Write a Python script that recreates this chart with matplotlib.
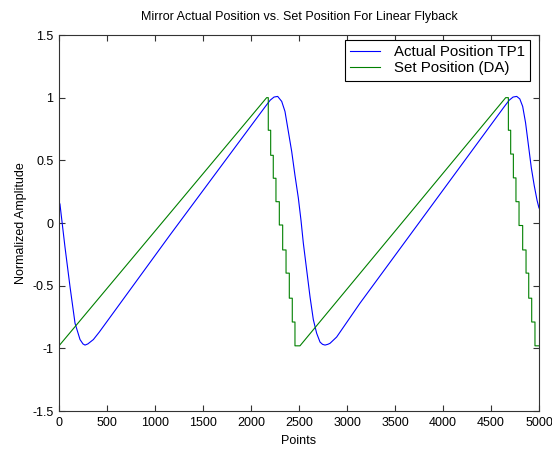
import matplotlib
matplotlib.use("Agg")
import matplotlib.pyplot as plt

# Actual position (blue)
blue_x = [0, 10, 62, 115, 167, 219, 250, 271, 300, 358, 420, 1156, 2150, 2200, 2240,
          2278, 2320, 2354, 2389, 2424, 2458, 2493, 2521, 2545, 2580, 2615, 2649, 2684,
          2719, 2745, 2771, 2800, 2823, 2892, 3135, 4640, 4690, 4730, 4768, 4800, 4830,
          4860, 4890, 4920, 4950, 4980, 5000]
blue_y = [0.17, 0.15, -0.19, -0.51, -0.80, -0.93, -0.965, -0.974, -0.965, -0.93, -0.87,
          -0.096, 0.93, 0.98, 1.005, 1.01, 0.97, 0.89, 0.73, 0.57, 0.38, 0.20, 0.02,
          -0.16, -0.375, -0.59, -0.77, -0.88, -0.95, -0.968, -0.974, -0.968, -0.96, -0.91,
          -0.64, 0.93, 0.98, 1.005, 1.01, 0.99, 0.93, 0.80, 0.62, 0.44, 0.30, 0.18, 0.12]

# Set position (green): ramp vertices and flyback steps
green_x = [0, 2163, 2180, 2180, 2205, 2205, 2232, 2232, 2260, 2260, 2295, 2295, 2330, 2330,
           2365, 2365, 2399, 2399, 2430, 2430, 2458, 2458, 2510,
           4653, 4681, 4681, 4705, 4705, 4733, 4733, 4760, 4760, 4792, 4792, 4830, 4830,
           4865, 4865, 4893, 4893, 4924, 4924, 4958, 4958, 5000]
green_y = [-0.98, 1.0, 1.0, 0.74, 0.74, 0.54, 0.54, 0.357, 0.357, 0.17, 0.17, -0.016, -0.016,
           -0.215, -0.215, -0.40, -0.40, -0.60, -0.60, -0.79, -0.79, -0.98, -0.98,
           1.0, 1.0, 0.74, 0.74, 0.55, 0.55, 0.36, 0.36, 0.17, 0.17, -0.02, -0.02, -0.215,
           -0.215, -0.40, -0.40, -0.60, -0.60, -0.79, -0.79, -0.98, -0.98]

x_ticks = [0, 500, 1000, 1500, 2000, 2500, 3000, 3500, 4000, 4500, 5000]
y_ticks = [-1.5, -1, -0.5, 0, 0.5, 1, 1.5]
y_tick_labels = ["-1.5", "-1", "-0.5", "0", "0.5", "1", "1.5"]

plt.rcParams['font.family'] = ['Liberation Sans', 'DejaVu Sans']
plt.rcParams['font.size'] = 9

fig = plt.figure(figsize=(5.52, 4.5), dpi=100)
ax = fig.add_axes([59 / 552, 39 / 450, 480 / 552, 376 / 450])

ax.plot(blue_x, blue_y, color='#0000ff', lw=0.8, label='Actual Position TP1')
ax.plot(green_x, green_y, color='#008000', lw=0.8, label='Set Position (DA)')

ax.set_xlim(0, 5000)
ax.set_ylim(-1.5, 1.5)
ax.set_xticks(x_ticks)
ax.set_xticklabels([str(t) for t in x_ticks])
ax.set_yticks(y_ticks)
ax.set_yticklabels(y_tick_labels)
ax.tick_params(direction='in', length=4, width=0.8, top=True, right=True, pad=4,
               color='#333333')
for s in ax.spines.values():
    s.set_color('#333333')
    s.set_linewidth(0.8)

ax.set_title('Mirror Actual Position vs. Set Position For Linear Flyback', fontsize=9, pad=11)
ax.set_xlabel('Points', labelpad=5)
ax.set_ylabel('Normalized Amplitude', labelpad=4)

leg = ax.legend(loc='upper right', bbox_to_anchor=(0.981, 0.987), borderaxespad=0,
                fontsize=10.8, frameon=True, fancybox=False,
                edgecolor='black', framealpha=1, handlelength=2.0, borderpad=0.35,
                labelspacing=0.15, handletextpad=0.9)
leg.get_frame().set_linewidth(0.8)

fig.savefig('out.png', dpi=100)
